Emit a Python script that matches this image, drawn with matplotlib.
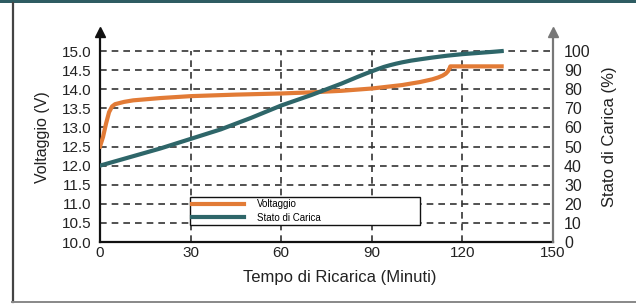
import matplotlib
matplotlib.use("Agg")
import matplotlib.pyplot as plt
from matplotlib.lines import Line2D
from matplotlib.patches import Rectangle

plt.rcParams['font.family'] = ['Liberation Sans', 'DejaVu Sans']

# tensione di carica (V)
volt_t = [0, 1, 2, 3, 4, 5, 8, 11, 20, 30, 45, 60, 70, 80, 90, 100, 106, 110, 112, 113.5, 114.5, 115.2, 115.7, 116, 133]
volt_v = [12.5, 12.75, 13.1, 13.4, 13.55, 13.61, 13.67, 13.71, 13.77, 13.82, 13.86, 13.89, 13.92, 13.96,
          14.02, 14.11, 14.19, 14.26, 14.31, 14.36, 14.41, 14.47, 14.54, 14.6, 14.6]

# stato di carica (%)
soc_t = [0, 10, 20, 30, 40, 50, 60, 70, 80, 85, 88, 90, 92, 94, 96, 98, 100, 103, 106, 110, 115, 120, 125, 130, 133]
soc_v = [40, 44.5, 49, 54, 59, 65, 71.5, 77, 83, 86.3, 88.2, 89.4, 90.6, 91.7, 92.6, 93.4, 94.1, 95.0, 95.7,
         96.6, 97.6, 98.4, 99.0, 99.6, 100]

x_ticks = [0, 30, 60, 90, 120, 150]
v_ticks = [10.0, 10.5, 11.0, 11.5, 12.0, 12.5, 13.0, 13.5, 14.0, 14.5, 15.0]
soc_ticks = [0, 10, 20, 30, 40, 50, 60, 70, 80, 90, 100]

ORANGE = '#e27b36'
TEAL = '#2e6669'
INK = '#222222'

fig = plt.figure(figsize=(6.36, 3.04), dpi=100)
ax = fig.add_axes([100/636, 1 - 242/304, 453/636, 210/304])
ax2 = ax.twinx()

ax.set_xlim(0, 150)
ax.set_ylim(10, 15.5)
ax2.set_ylim(0, 110)

# griglia tratteggiata
ax.hlines(v_ticks[1:], 0, 150, colors='#333333', linestyles=(0, (4, 3)), lw=1.2, zorder=1)
ax.vlines(x_ticks[1:-1], 10, 15, colors='#333333', linestyles=(0, (4, 3)), lw=1.2, zorder=1)

l1, = ax.plot(volt_t, volt_v, color=ORANGE, lw=3, zorder=3, label='Voltaggio')
l2, = ax2.plot(soc_t, soc_v, color=TEAL, lw=3, zorder=3, label='Stato di Carica')
ax2.set_zorder(ax.get_zorder() + 1)
ax2.patch.set_visible(False)

ax.set_xticks(x_ticks)
ax.set_yticks(v_ticks)
ax.set_yticklabels([f"{v:.1f}" for v in v_ticks])
ax2.set_yticks(soc_ticks)

ax.tick_params(axis='x', length=0, pad=3, labelsize=11, colors=INK)
ax.tick_params(axis='y', length=0, pad=6, labelsize=11, colors=INK)
ax2.tick_params(axis='y', length=0, pad=8, labelsize=11.5, colors=INK)

ax.spines['top'].set_visible(False)
ax2.spines['top'].set_visible(False)
ax.spines['right'].set_visible(False)
ax2.spines['left'].set_visible(False)
ax2.spines['bottom'].set_visible(False)
ax.spines['left'].set_color('#111111')
ax.spines['left'].set_linewidth(1.6)
ax.spines['bottom'].set_color('#111111')
ax.spines['bottom'].set_linewidth(1.6)
ax2.spines['right'].set_color('#777777')
ax2.spines['right'].set_linewidth(1.6)

# frecce sugli assi
ax.plot(0, 1, marker='^', color='#111111', ms=7, transform=ax.transAxes, clip_on=False)
ax2.plot(1, 1, marker='^', color='#777777', ms=7, transform=ax2.transAxes, clip_on=False)

ax.set_xlabel('Tempo di Ricarica (Minuti)', fontsize=12, color=INK)
ax.xaxis.set_label_coords(240/453, -0.135)
ax.set_ylabel('Voltaggio (V)', fontsize=11.5, color=INK)
ax.yaxis.set_label_coords(-0.11, 0.5)
ax2.set_ylabel('Stato di Carica (%)', fontsize=12, color=INK)
ax2.yaxis.set_label_coords(1.108, 0.5)

leg = ax2.legend(handles=[l1, l2], loc='lower left', mode='expand',
                 bbox_to_anchor=(0.1876, 0.057, 0.53, 0.143),
                 fontsize=7, handlelength=5.3, handletextpad=1.4,
                 borderpad=0.25, labelspacing=0.35, fancybox=False, framealpha=1)
leg.get_frame().set_edgecolor('#111111')
leg.get_frame().set_linewidth(1.0)

# cornice della figura
fig.add_artist(Rectangle((0, 1 - 3/304), 1, 3/304, transform=fig.transFigure,
                         facecolor='#2e5c62', edgecolor='none'))
fig.add_artist(Line2D([12.5/636, 12.5/636], [2/304, 1 - 3/304], transform=fig.transFigure,
                      color='#444444', lw=1.6))
fig.add_artist(Line2D([12/636, 1], [2/304, 2/304], transform=fig.transFigure,
                      color='#888888', lw=1.4))

fig.savefig('out.png', dpi=100)
